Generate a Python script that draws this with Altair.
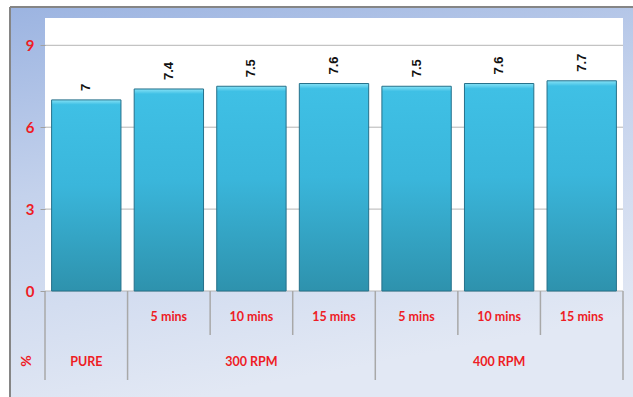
import altair as alt
import pandas as pd

# ---- data ----
groups = ["PURE", "300 RPM", "300 RPM", "300 RPM", "400 RPM", "400 RPM", "400 RPM"]
subs = ["", "5 mins", "10 mins", "15 mins", "5 mins", "10 mins", "15 mins"]
values = [7, 7.4, 7.5, 7.6, 7.5, 7.6, 7.7]
y_ticks = [0, 3, 6, 9]
group_names = ["PURE", "300 RPM", "400 RPM"]
y_title = "%"

keys = [f"{g} {s}".strip() for g, s in zip(groups, subs)]
df = pd.DataFrame({"key": keys, "group": groups, "sub": subs, "value": values})
df["label"] = df["value"].map(lambda v: f"{v:g}")

# separators: left edge of every category; long if a group starts there
kinds = []
for i, g in enumerate(groups):
    kinds.append("long" if i == 0 or groups[i - 1] != g else "short")
sep_df = pd.DataFrame({"key": keys, "kind": kinds})

# group labels placed at middle category of each group
grp_rows = []
for g in group_names:
    idx = [i for i, gg in enumerate(groups) if gg == g]
    grp_rows.append({"key": keys[idx[len(idx) // 2]], "group": g})
grp_df = pd.DataFrame(grp_rows)

W, H = 578, 273
RED = "#ee1c25"
FONT = "Lato"

xscale = alt.Scale(domain=keys, paddingInner=0, paddingOuter=0)
yscale = alt.Scale(domain=[0, 10], nice=False)

one = pd.DataFrame({"a": [0]})

background = alt.Chart(one).mark_rect(
    color=alt.LinearGradient(
        gradient="linear",
        stops=[alt.GradientStop(color="#9cb4e1", offset=0),
               alt.GradientStop(color="#c4d2ec", offset=0.45),
               alt.GradientStop(color="#e2e8f4", offset=1)],
        x1=0, x2=0.3, y1=0, y2=1,
    )
).encode(x=alt.value(-34), x2=alt.value(588), y=alt.value(-10), y2=alt.value(379))

top_border = alt.Chart(one).mark_rule(color="#858585", strokeWidth=2).encode(
    x=alt.value(-35), x2=alt.value(588), y=alt.value(-11))
left_border = alt.Chart(one).mark_rule(color="#858585", strokeWidth=2).encode(
    x=alt.value(-35), y=alt.value(-11), y2=alt.value(379))

plot_bg = alt.Chart(one).mark_rect(color="white").encode(
    x=alt.value(0), x2=alt.value(W), y=alt.value(0), y2=alt.value(H))

grid = alt.Chart(pd.DataFrame({"t": y_ticks})).mark_rule(color="#b4b4b4", strokeWidth=1).encode(
    y=alt.Y("t:Q", scale=yscale,
            axis=alt.Axis(values=y_ticks, grid=False, domain=False, tickColor="#a0a0a0",
                          tickSize=5, labelColor=RED, labelFont=FONT, labelFontWeight="bold",
                          labelFontSize=15, labelPadding=6, title=None, zindex=1))
)

bars = alt.Chart(df).mark_bar(
    width=alt.RelativeBandSize(0.84),
    color=alt.LinearGradient(
        gradient="linear",
        stops=[alt.GradientStop(color="#86e2f6", offset=0),
               alt.GradientStop(color="#3fc0e5", offset=0.025),
               alt.GradientStop(color="#3ab6db", offset=0.45),
               alt.GradientStop(color="#2e92ad", offset=1)],
        x1=0, x2=0, y1=0, y2=1,
    ),
    stroke="#25708a", strokeWidth=1,
).encode(
    x=alt.X("key:N", scale=xscale, axis=None, sort=keys),
    y=alt.Y("value:Q", scale=yscale),
)

value_labels = alt.Chart(df).mark_text(
    angle=270, align="left", baseline="middle", dx=9,
    font="Liberation Sans", fontWeight="bold", fontSize=13, color="#111111",
).encode(
    x=alt.X("key:N", scale=xscale, sort=keys),
    y=alt.Y("value:Q", scale=yscale),
    text="label:N",
)

sep_short = alt.Chart(sep_df).transform_filter(alt.datum.kind == "short").mark_rule(
    color="#a8a8a8", strokeWidth=1.5).encode(
    x=alt.X("key:N", scale=xscale, sort=keys, bandPosition=0),
    y=alt.value(H), y2=alt.value(317))
sep_long = alt.Chart(sep_df).transform_filter(alt.datum.kind == "long").mark_rule(
    color="#a8a8a8", strokeWidth=1.5).encode(
    x=alt.X("key:N", scale=xscale, sort=keys, bandPosition=0),
    y=alt.value(H), y2=alt.value(362))
sep_end = alt.Chart(sep_df.tail(1)).mark_rule(color="#a8a8a8", strokeWidth=1.5).encode(
    x=alt.X("key:N", scale=xscale, sort=keys, bandPosition=1),
    y=alt.value(H), y2=alt.value(362))

sub_labels = alt.Chart(df).mark_text(
    font=FONT, fontWeight="bold", fontSize=12.5, color=RED, baseline="middle").encode(
    x=alt.X("key:N", scale=xscale, sort=keys), y=alt.value(299), text="sub:N")

grp_labels = alt.Chart(grp_df).mark_text(
    font=FONT, fontWeight="bold", fontSize=12.5, color=RED, baseline="middle").encode(
    x=alt.X("key:N", scale=xscale, sort=keys), y=alt.value(344), text="group:N")

pct = alt.Chart(pd.DataFrame({"t": [y_title]})).mark_text(
    font=FONT, fontWeight="bold", fontSize=14, color=RED, angle=270,
    align="center", baseline="middle").encode(
    x=alt.value(-18), y=alt.value(343), text="t:N")

chart = alt.layer(
    background, top_border, left_border, plot_bg, grid, bars, value_labels,
    sep_short, sep_long, sep_end, sub_labels, grp_labels, pct,
).properties(
    width=W, height=H,
    autosize=alt.AutoSizeParams(type="none"),
    padding={"left": 45, "top": 18, "right": 10, "bottom": 106},
    background="white",
).configure_view(stroke=None)

chart.save("out.html", embed_options={"renderer": "svg", "actions": False})
